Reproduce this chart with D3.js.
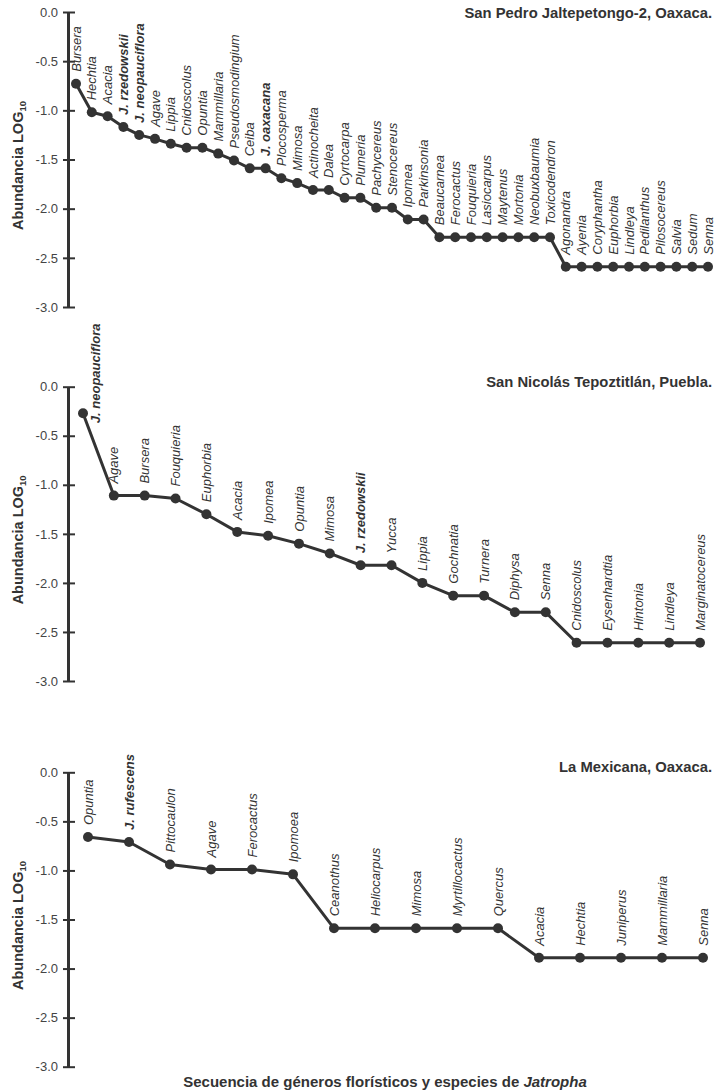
<!DOCTYPE html>
<html>
<head>
<meta charset="utf-8">
<script src="https://cdn.jsdelivr.net/npm/d3@7"></script>
<style>
  body { margin: 0; background: #fff; }
  svg { display: block; font-family: "Liberation Sans", Arial, Helvetica, sans-serif; }
</style>
</head>
<body>
<div id="chart"></div>
<script>
"use strict";

// Data
const siteNames = ["San Pedro Jaltepetongo-2, Oaxaca.", "San Nicolás Tepoztitlán, Puebla.", "La Mexicana, Oaxaca."];

const generaJaltepetongo = ["Bursera", "Hechtia", "Acacia", "J. rzedowskii", "J. neopauciflora", "Agave", "Lippia",
    "Cnidoscolus", "Opuntia", "Mammillaria", "Pseudosmodingium", "Ceiba", "J. oaxacana", "Plocosperma", "Mimosa",
    "Actinocheita", "Dalea", "Cyrtocarpa", "Plumeria", "Pachycereus", "Stenocereus", "Ipomea", "Parkinsonia",
    "Beaucarnea", "Ferocactus", "Fouquieria", "Lasiocarpus", "Maytenus", "Mortonia", "Neobuxbaumia", "Toxicodendron",
    "Agonandra", "Ayenia", "Coryphantha", "Euphorbia", "Lindleya", "Pedilanthus", "Pilosocereus", "Salvia", "Sedum", "Senna"];
const abundJaltepetongo = [-0.73, -1.02, -1.06, -1.17, -1.25, -1.29, -1.34,
    -1.38, -1.38, -1.44, -1.51, -1.59, -1.59, -1.69, -1.74,
    -1.81, -1.81, -1.89, -1.89, -1.99, -1.99, -2.11, -2.11,
    -2.29, -2.29, -2.29, -2.29, -2.29, -2.29, -2.29, -2.29,
    -2.59, -2.59, -2.59, -2.59, -2.59, -2.59, -2.59, -2.59, -2.59, -2.59];

const generaTepoztitlan = ["J. neopauciflora", "Agave", "Bursera", "Fouquieria", "Euphorbia", "Acacia", "Ipomea",
    "Opuntia", "Mimosa", "J. rzedowskii", "Yucca", "Lippia", "Gochnatia", "Turnera", "Diphysa", "Senna",
    "Cnidoscolus", "Eysenhardtia", "Hintonia", "Lindleya", "Marginatocereus"];
const abundTepoztitlan = [-0.27, -1.11, -1.11, -1.14, -1.30, -1.48, -1.52,
    -1.60, -1.70, -1.82, -1.82, -2.00, -2.13, -2.13, -2.30, -2.30,
    -2.61, -2.61, -2.61, -2.61, -2.61];

const generaMexicana = ["Opuntia", "J. rufescens", "Pittocaulon", "Agave", "Ferocactus", "Ipomoea", "Ceanothus",
    "Heliocarpus", "Mimosa", "Myrtillocactus", "Quercus", "Acacia", "Hechtia", "Juniperus", "Mammillaria", "Senna"];
const abundMexicana = [-0.66, -0.71, -0.94, -0.99, -0.99, -1.04, -1.59,
    -1.59, -1.59, -1.59, -1.59, -1.89, -1.89, -1.89, -1.89, -1.89];

const jatrophaSpecies = ["J. rzedowskii", "J. neopauciflora", "J. oaxacana", "J. rufescens"];
const yTicks = [0, -0.5, -1.0, -1.5, -2.0, -2.5, -3.0];

// Layout of the three panels
const W = 718, H = 1092, axisX = 68, ink = "#333";
const panels = [
    {name: siteNames[0], genera: generaJaltepetongo, values: abundJaltepetongo, top: 12, bottom: 307, x0: 76, x1: 708, titleY: 18},
    {name: siteNames[1], genera: generaTepoztitlan, values: abundTepoztitlan, top: 386.7, bottom: 681, x0: 83, x1: 700, titleY: 387, firstBeside: true},
    {name: siteNames[2], genera: generaMexicana, values: abundMexicana, top: 772.3, bottom: 1066.7, x0: 88, x1: 703, titleY: 772}
];

const svg = d3.select("#chart").append("svg")
    .attr("width", W)
    .attr("height", H);

panels.forEach(function (p) {
    let y = d3.scaleLinear().domain([0, -3]).range([p.top, p.bottom]);
    let x = d3.scalePoint().domain(d3.range(p.genera.length)).range([p.x0, p.x1]);
    let pts = p.values.map((v, i) => ({name: p.genera[i], value: v, i: i}));

    // Y axis
    let ax = svg.append("g")
        .attr("transform", "translate(" + axisX + ",0)")
        .call(d3.axisLeft(y).tickValues(yTicks).tickSizeInner(5).tickSizeOuter(0).tickPadding(5)
            .tickFormat(d => d.toFixed(1)));
    ax.select(".domain").attr("stroke", ink).attr("stroke-width", 3);
    ax.selectAll(".tick line").attr("x1", 7).attr("stroke", ink).attr("stroke-width", 2);
    ax.selectAll(".tick text")
        .attr("fill", "#444")
        .style("font-size", "13px");

    // Y axis label
    let lab = svg.append("text")
        .attr("transform", "translate(23," + ((p.top + p.bottom) / 2 + 6) + ") rotate(-90)")
        .attr("text-anchor", "middle")
        .attr("fill", ink)
        .style("font-size", "14.5px")
        .style("font-weight", "bold");
    lab.append("tspan").text("Abundancia LOG");
    lab.append("tspan").attr("dy", 3).style("font-size", "9.5px").text("10");

    // Panel title
    svg.append("text")
        .attr("x", 712)
        .attr("y", p.titleY)
        .attr("text-anchor", "end")
        .attr("fill", ink)
        .style("font-size", "14.8px")
        .style("font-weight", "bold")
        .text(p.name);

    // Line and dots
    svg.append("path")
        .datum(pts)
        .attr("fill", "none")
        .attr("stroke", ink)
        .attr("stroke-width", 3)
        .attr("stroke-linejoin", "round")
        .attr("d", d3.line().x(d => x(d.i)).y(d => y(d.value)));

    svg.append("g")
        .selectAll("circle")
        .data(pts)
        .enter()
        .append("circle")
        .attr("cx", d => x(d.i))
        .attr("cy", d => y(d.value))
        .attr("r", 5)
        .attr("fill", ink);

    // Genus labels
    svg.append("g")
        .selectAll("text")
        .data(pts)
        .enter()
        .append("text")
        .attr("transform", function (d) {
            let lx = x(d.i), ly = y(d.value) - 12;
            if (p.firstBeside && d.i === 0) { lx += 12; ly = y(d.value) + 10; }
            return "translate(" + lx + "," + ly + ") rotate(-90)";
        })
        .attr("dy", "0.35em")
        .attr("fill", ink)
        .style("font-size", "13px")
        .style("font-style", "italic")
        .style("font-weight", d => jatrophaSpecies.includes(d.name) ? "bold" : "normal")
        .text(d => d.name);
});

// X axis title
let xt = svg.append("text")
    .attr("x", 385)
    .attr("y", 1087)
    .attr("text-anchor", "middle")
    .attr("fill", ink)
    .style("font-size", "15px")
    .style("font-weight", "bold");
xt.append("tspan").text("Secuencia de géneros florísticos y especies de ");
xt.append("tspan").style("font-style", "italic").text("Jatropha");
</script>
</body>
</html>
